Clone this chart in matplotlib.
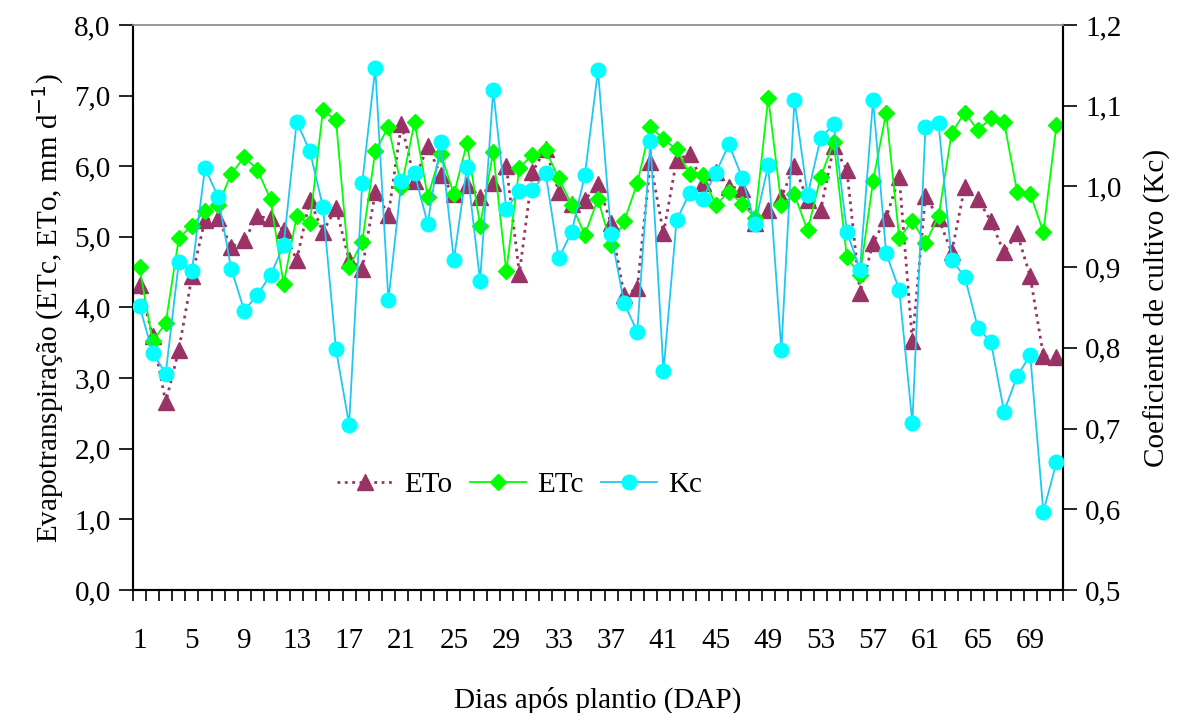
import matplotlib
matplotlib.use('Agg')
import matplotlib.pyplot as plt
from matplotlib.ticker import FixedLocator, NullFormatter

plt.rcParams['font.family'] = ['Liberation Serif', 'DejaVu Serif']

# dias apos plantio
dias = list(range(1, 72))

eto = [4.32, 3.60, 2.66, 3.40, 4.44, 5.24, 5.26, 4.86, 4.95, 5.29, 5.26, 5.09,
       4.67, 5.52, 5.07, 5.41, 4.67, 4.55, 5.64, 5.31, 6.60, 5.79, 6.29, 5.87,
       5.60, 5.73, 5.57, 5.76, 6.01, 4.48, 5.92, 6.25, 5.64, 5.46, 5.52, 5.75,
       5.19, 4.17, 4.27, 6.06, 5.05, 6.09, 6.17, 5.76, 5.92, 5.71, 5.68, 5.19,
       5.38, 5.56, 6.01, 5.52, 5.38, 6.28, 5.95, 4.21, 4.91, 5.27, 5.85, 3.52,
       5.58, 5.26, 4.78, 5.71, 5.54, 5.22, 4.78, 5.05, 4.44, 3.32, 3.30]

etc = [4.57, 3.52, 3.78, 4.98, 5.16, 5.37, 5.45, 5.89, 6.13, 5.95, 5.53, 4.33,
       5.29, 5.19, 6.79, 6.65, 4.57, 4.93, 6.21, 6.56, 5.71, 6.63, 5.57, 6.18,
       5.60, 6.33, 5.16, 6.20, 4.51, 5.98, 6.16, 6.23, 5.83, 5.45, 5.03, 5.54,
       4.88, 5.22, 5.76, 6.56, 6.38, 6.24, 5.89, 5.87, 5.45, 5.64, 5.47, 5.27,
       6.97, 5.45, 5.60, 5.09, 5.85, 6.34, 4.71, 4.46, 5.79, 6.76, 4.98, 5.23,
       4.91, 5.29, 6.47, 6.76, 6.51, 6.68, 6.63, 5.64, 5.61, 5.07, 6.58]

kc = [0.852, 0.794, 0.768, 0.906, 0.895, 1.023, 0.987, 0.898, 0.846, 0.866, 0.890, 0.927,
      1.080, 1.044, 0.975, 0.798, 0.705, 1.004, 1.147, 0.859, 1.007, 1.016, 0.954, 1.055,
      0.909, 1.024, 0.883, 1.119, 0.972, 0.994, 0.995, 1.017, 0.911, 0.944, 1.014, 1.144,
      0.941, 0.855, 0.820, 1.056, 0.771, 0.958, 0.992, 0.985, 1.017, 1.052, 1.011, 0.954,
      1.026, 0.797, 1.107, 0.989, 1.060, 1.077, 0.944, 0.897, 1.107, 0.917, 0.872, 0.707,
      1.074, 1.078, 0.909, 0.888, 0.825, 0.807, 0.721, 0.765, 0.791, 0.597, 0.658]

left_ticks = [0, 1, 2, 3, 4, 5, 6, 7, 8]
right_ticks = [0.5, 0.6, 0.7, 0.8, 0.9, 1.0, 1.1, 1.2]
x_labels = list(range(1, 72, 4))

fs = 21

fig = plt.figure(figsize=(11.84, 7.13), dpi=100)
ax = fig.add_axes([0.1123, 0.1725, 0.7855, 0.7925])
ax2 = ax.twinx()

l1, = ax.plot(dias, eto, color='#993366', linestyle=':', linewidth=2,
              marker='^', markersize=11, markerfacecolor='#993366',
              markeredgecolor='#993366', label='ETo', zorder=3)
l2, = ax.plot(dias, etc, color='#00FF00', linestyle='-', linewidth=1.3,
              marker='D', markersize=8, markerfacecolor='#00FF00',
              markeredgecolor='#00FF00', label='ETc', zorder=4)
l3, = ax2.plot(dias, kc, color='#1EC8F5', linestyle='-', linewidth=1.3,
               marker='o', markersize=10.5, markerfacecolor='#00FFFF',
               markeredgecolor='#00FFFF', label='Kc', zorder=5)

ax.set_xlim(0.5, 71.5)
ax.set_ylim(0, 8)
ax2.set_ylim(0.5, 1.2)

# ticks between categories, labels every 4 days
ax.xaxis.set_major_locator(FixedLocator([i + 0.5 for i in range(0, 72)]))
ax.xaxis.set_major_formatter(NullFormatter())
ax.xaxis.set_minor_locator(FixedLocator(x_labels))
ax.set_xticklabels([str(v) for v in x_labels], minor=True)
ax.tick_params(axis='x', which='major', direction='out', length=8, width=1.2, color='black')
ax.tick_params(axis='x', which='minor', length=0, pad=27, labelsize=fs)

ax.set_yticks(left_ticks)
ax.set_yticklabels([('%.1f' % v).replace('.', ',') for v in left_ticks])
ax.tick_params(axis='y', direction='out', length=10, width=1.2, labelsize=fs, pad=6)

ax2.set_yticks(right_ticks)
ax2.set_yticklabels([('%.1f' % v).replace('.', ',') for v in right_ticks])
ax2.tick_params(axis='y', direction='out', length=10, width=1.2, labelsize=fs, pad=6)

for a in (ax, ax2):
    a.spines['top'].set_color('#999999')
    a.spines['top'].set_linewidth(1.2)
    a.spines['left'].set_linewidth(1.5)
    a.spines['right'].set_linewidth(1.5)
    a.spines['bottom'].set_linewidth(1.5)

ax.set_ylabel('Evapotranspiração (ETc, ETo, mm d$^{-1}$)', fontsize=fs, labelpad=6)
ax2.set_ylabel('Coeficiente de cultivo (Kc)', fontsize=fs, labelpad=16)
ax.set_xlabel('Dias após plantio (DAP)', fontsize=fs, labelpad=24)

ax2.legend([l1, l2, l3], ['ETo', 'ETc', 'Kc'], loc='center', bbox_to_anchor=(0.416, 0.186),
           ncol=3, frameon=False, fontsize=fs, handlelength=1.9, columnspacing=0.6,
           handletextpad=0.4)

fig.savefig('out.png', dpi=100)
